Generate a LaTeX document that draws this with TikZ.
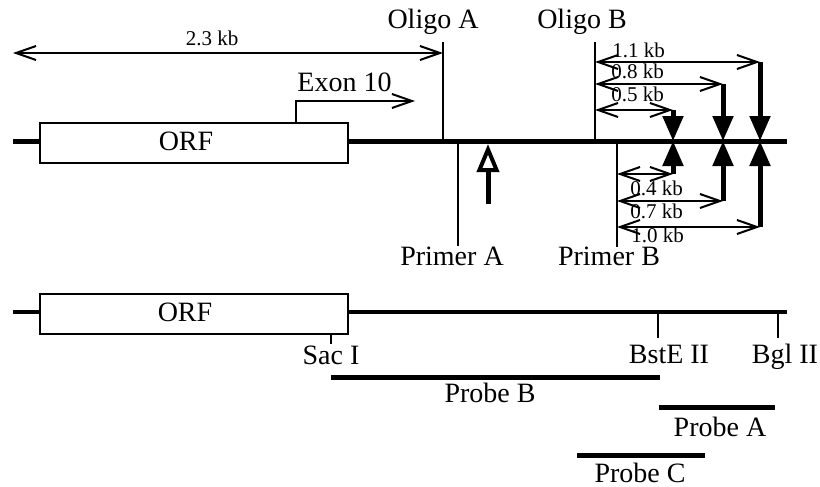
\documentclass[tikz,border=0pt]{standalone}
\usepackage{fontspec}
\setmainfont{Liberation Serif}
\usetikzlibrary{arrows.meta, positioning}

\begin{document}
\begin{tikzpicture}[
    x=0.5pt, y=-0.5pt,
    dna/.style={line width=2.5pt},
    site/.style={line width=1pt},
    span/.style={line width=1pt, {Straight Barb[length=10pt,width=7pt]}-{Straight Barb[length=10pt,width=7pt]}},
    cut/.style={line width=2.5pt, -{Triangle[length=12.5pt,width=10pt]}},
    probe/.style={line width=2.5pt},
    orfbox/.style={draw, fill=white, line width=1pt, minimum width=154pt, minimum height=20pt, inner sep=0pt},
    lbl/.style={font=\fontsize{14}{16}\selectfont, inner sep=0pt},
    kblbl/.style={font=\fontsize{10.5}{12}\selectfont, inner sep=0pt},
]
\useasboundingbox (0,0) rectangle (820,487);

% Positions (top map)
\coordinate (a0) at (13,141);
\coordinate (a1) at (787,141);
\coordinate (w0) at (13,53);
\coordinate (w1) at (443,53);
\coordinate (oa0) at (443,42);
\coordinate (oa1) at (443,141);
\coordinate (ob0) at (595,42);
\coordinate (ob1) at (595,141);
\coordinate (pa0) at (458,141);
\coordinate (pa1) at (458,246);
\coordinate (pb0) at (617,141);
\coordinate (pb1) at (617,247);
\coordinate (ex0) at (296,123);
\coordinate (ex1) at (415,101);
\coordinate (mut0) at (488,204);
\coordinate (mut1) at (488,144);
\coordinate (c1) at (673,141);
\coordinate (c2) at (723,141);
\coordinate (c3) at (760,141);
\coordinate (u1) at (673,110);
\coordinate (u2) at (723,84);
\coordinate (u3) at (760,62);
\coordinate (d1) at (673,174);
\coordinate (d2) at (723,201);
\coordinate (d3) at (760,227);

% Lines (top map)
\draw[dna] (a0) -- (a1);
\node[orfbox] (orf1) at (194,143) {};
\draw[site, -{Straight Barb[length=10pt,width=7pt]}] (ex0) |- (ex1);
\draw[span] (w0) -- (w1);
\draw[site] (oa0) -- (oa1);
\draw[site] (ob0) -- (ob1);
\draw[site] (pa0) -- (pa1);
\draw[site] (pb0) -- (pb1);
\draw[line width=2.5pt, -{Triangle[open,length=14pt,width=11pt,line width=2pt]}] (mut0) -- (mut1);

\draw[span] (ob0 |- u1) -- (u1);
\draw[span] (ob0 |- u2) -- (u2);
\draw[span] (ob0 |- u3) -- (u3);
\draw[span] (pb0 |- d1) -- (d1);
\draw[span] (pb0 |- d2) -- (d2);
\draw[span] (pb0 |- d3) -- (d3);
\foreach \i in {1,2,3} {
    \draw[cut] (u\i) -- (c\i);
    \draw[cut] (d\i) -- (c\i);
}

% Labels (top map)
\node[lbl, anchor=base] (orfA) at (186,150) {ORF};
\node[kblbl, anchor=base] (k23) at (212,46) {2.3 kb};
\node[lbl, anchor=base west] (exon) at (297,91) {Exon 10};
\node[lbl, anchor=base] (oliA) at (433,28) {Oligo A};
\node[lbl, anchor=base] (oliB) at (582,28) {Oligo B};
\node[lbl, anchor=base] (priA) at (452,265) {Primer A};
\node[lbl, anchor=base] (priB) at (609,265) {Primer B};
\node[kblbl, anchor=base west] (k11) at (612,57) {1.1 kb};
\node[kblbl, anchor=base west] (k08) at (611,78) {0.8 kb};
\node[kblbl, anchor=base west] (k05) at (611,101) {0.5 kb};
\node[kblbl, anchor=base west] (k04) at (630,195) {0.4 kb};
\node[kblbl, anchor=base west] (k07) at (630,218) {0.7 kb};
\node[kblbl, anchor=base west] (k10) at (631,242) {1.0 kb};

% Positions (restriction map)
\coordinate (b0) at (13,312);
\coordinate (b1) at (787,312);
\coordinate (sac0) at (331,333);
\coordinate (sac1) at (331,344);
\coordinate (bst0) at (658,312);
\coordinate (bst1) at (658,338);
\coordinate (bgl0) at (778,312);
\coordinate (bgl1) at (778,338);
\coordinate (prB0) at (331,377);
\coordinate (prB1) at (660,377);
\coordinate (prA0) at (659,407);
\coordinate (prA1) at (775,407);
\coordinate (prC0) at (577,455);
\coordinate (prC1) at (705,455);

% Lines (restriction map)
\draw[line width=2pt] (b0) -- (b1);
\node[orfbox] (orf2) at (193.5,313.5) {};
\draw[site] (sac0) -- (sac1);
\draw[site] (bst0) -- (bst1);
\draw[site] (bgl0) -- (bgl1);
\draw[probe] (prB0) -- (prB1);
\draw[probe] (prA0) -- (prA1);
\draw[probe] (prC0) -- (prC1);

% Labels (restriction map)
\node[lbl, anchor=base] (orfB) at (185,321) {ORF};
\node[lbl, anchor=base] (sac) at (331,364) {Sac I};
\node[lbl, anchor=base] (bst) at (669,363) {BstE II};
\node[lbl, anchor=base] (bgl) at (785,363) {Bgl II};
\node[lbl, anchor=base] (probeB) at (490,402) {Probe B};
\node[lbl, anchor=base] (probeA) at (720,436) {Probe A};
\node[lbl, anchor=base] (probeC) at (640,482) {Probe C};

\end{tikzpicture}
\end{document}
